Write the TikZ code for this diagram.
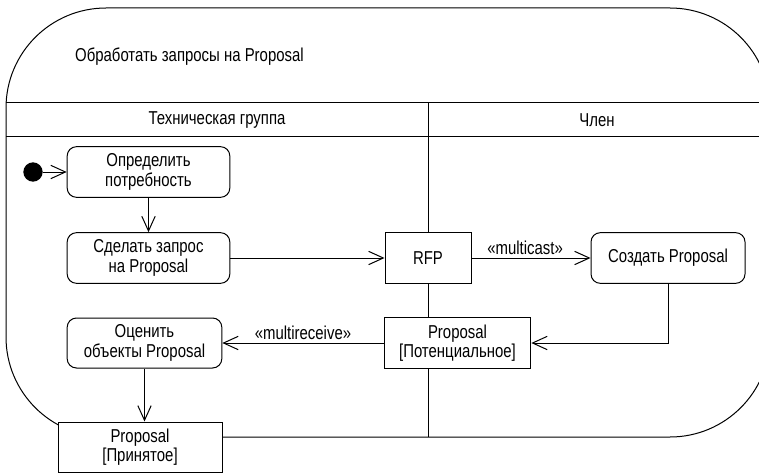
\documentclass[tikz,border=0pt]{standalone}
\usepackage{fontspec}
\setmainfont{Liberation Sans}[FakeStretch=0.8]
\usetikzlibrary{arrows.meta}

\begin{document}
\begin{tikzpicture}[x=0.75pt,y=-0.75pt,line width=0.75pt,
	every node/.style={font=\fontsize{14}{14.5}\selectfont,align=center,inner sep=2pt},
	action/.style={draw,fill=white,rounded corners=7pt,minimum height=38pt},
	objbox/.style={draw,fill=white,minimum height=38pt},
	flow/.style={-{Straight Barb[length=11pt,width=10pt]}}]
			\useasboundingbox (0,0) rectangle (759,474);
			\clip (0,0) rectangle (759,474);
			% frame and lanes
			\draw[rounded corners=75pt] (6,8) rectangle (770,437);
			\draw (6,103) -- (770,103);
			\draw (6,137) -- (770,137);
			\draw (428,103) -- (428,437);
			\node[anchor=base west] (title) at (72,62) {Обработать запросы на Proposal};
			\node (lanetech) at (217,120) {Техническая группа};
			\node (lanemember) at (597,120) {Член};
			% nodes
			\node[circle,fill=black,minimum size=14.5pt,inner sep=0pt] (init) at (33,172) {};
			\node[action,minimum width=122pt] (define) at (148.5,172) {Определить\\потребность};
			\node[action,minimum width=122pt] (request) at (148.5,258) {Сделать запрос\\на Proposal};
			\node[objbox,minimum width=64.5pt] (rfp) at (428,258) {RFP};
			\node[action,minimum width=115.5pt] (create) at (668,258) {Создать Proposal};
			\node[objbox,minimum width=110pt] (potential) at (457.5,343) {Proposal\\{[Потенциальное]}};
			\node[action,minimum width=116pt,minimum height=37.5pt] (evaluate) at (144.5,343) {Оценить\\объекты Proposal};
			\node[objbox,minimum width=123pt,minimum height=37.5pt] (accepted) at (140,447) {Proposal\\{[Принятое]}};
			% flows
			\draw[flow] (init) -- (define);
			\draw[flow] (define) -- (request);
			\draw[flow] (request) -- (rfp);
			\draw[flow] (rfp) -- node[above,pos=0.45] {«multicast»} (create);
			\draw[flow] (create.south) |- (potential.east);
			\draw[flow] (potential) -- node[above] {«multireceive»} (evaluate);
			\draw[flow] (evaluate.south) -- (evaluate.south |- accepted.north);
\end{tikzpicture}
\end{document}
